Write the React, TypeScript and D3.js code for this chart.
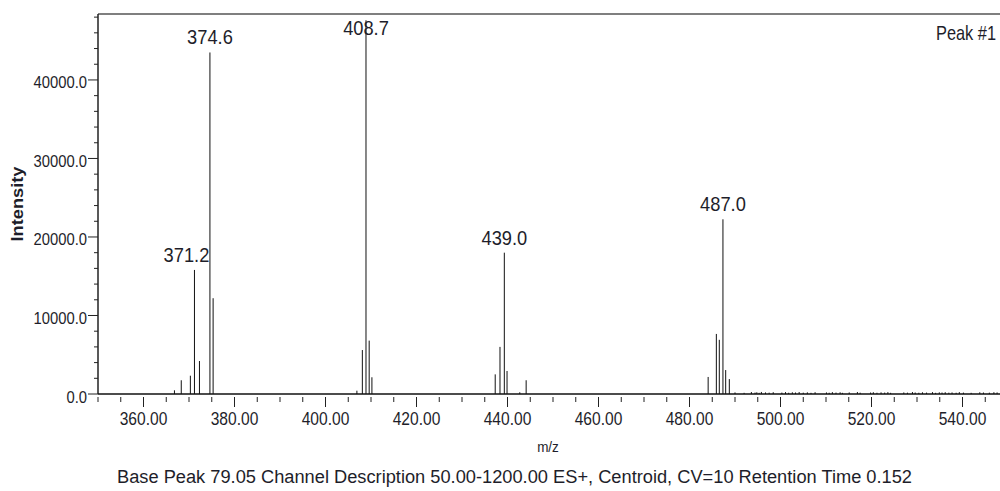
import React from "react";
import * as d3 from "d3";

// ---- data ----
const peakMz: number[] = [
  366.8, 368.3, 370.3, 371.2, 372.3, 374.6, 375.3,
  406.9, 408.1, 408.9, 409.6, 410.2,
  437.3, 438.35, 439.3, 439.9, 442.7, 444.1,
  484.1, 485.9, 486.55, 487.35, 487.95, 488.75,
];
const peakIntensity: number[] = [
  470, 1750, 2330, 15800, 4200, 43500, 12200,
  420, 5600, 47600, 6800, 2130,
  2500, 6000, 18000, 2930, 220, 1750,
  2170, 7650, 6900, 22250, 3050, 1900,
];
const noiseMz: number[] = [
  490.0, 492.0, 493.6, 494.4, 494.8, 495.3, 495.8, 496.7, 497.5, 498.4,
  500.3, 501.1, 501.8, 502.6, 503.3, 504.1, 505.0, 505.9, 506.7, 507.6,
  510.1, 510.7, 511.4, 512.2, 513.1, 513.6, 515.1, 516.9, 517.5, 519.8,
  520.4, 521.2, 522.1, 522.9, 523.6, 524.2, 527.1, 527.9, 529.0, 529.6,
  530.4, 531.2, 532.1, 533.4, 534.1, 534.9, 535.5, 536.2, 537.0, 537.7,
  538.6, 539.3, 540.2, 541.9, 543.8, 544.6, 545.9, 546.9, 547.6,
];
const noiseIntensity: number[] = [
  200, 150, 250, 180, 220, 150, 260, 200, 170, 230,
  180, 240, 160, 220, 190, 250, 170, 210, 150, 230,
  200, 160, 240, 180, 220, 150, 200, 250, 170, 190,
  230, 160, 210, 180, 240, 150, 200, 170, 250, 190,
  160, 220, 180, 240, 150, 210, 190, 230, 170, 200,
  160, 240, 180, 150, 220, 190, 170, 230, 200,
];
const labelMz: number[] = [371.2, 374.6, 408.9, 439.3, 487.35];
const labelText: string[] = ["371.2", "374.6", "408.7", "439.0", "487.0"];

const xDomain: [number, number] = [350, 550];
const yDomain: [number, number] = [0, 48400];
const xMajorTicks: number[] = [360, 380, 400, 420, 440, 460, 480, 500, 520, 540];
const yMajorTicks: number[] = [0, 10000, 20000, 30000, 40000];

const xTitle = "m/z";
const yTitle = "Intensity";
const cornerText = "Peak #1";
const footerText =
  "Base Peak 79.05 Channel Description 50.00-1200.00 ES+, Centroid, CV=10 Retention Time 0.152";

const FONT = "'Liberation Sans', Arial, sans-serif";
const TXT = "#1e1e2a";

function SText(props: {
  x: number;
  y: number;
  size: number;
  anchor?: "start" | "middle" | "end";
  sx?: number;
  weight?: string;
  rotate?: number;
  fill?: string;
  len?: number;
  children: React.ReactNode;
}) {
  const { x, y, size, anchor = "start", sx = 0.9, weight = "normal", rotate = 0, fill = TXT, len } = props;
  return (
    <text
      transform={`translate(${x},${y}) rotate(${rotate}) scale(${sx},1)`}
      fontSize={size}
      fontFamily={FONT}
      fontWeight={weight}
      textAnchor={anchor}
      fill={fill}
      textLength={len}
      lengthAdjust={len ? "spacingAndGlyphs" : undefined}
    >
      {props.children}
    </text>
  );
}

export default function App() {
  const W = 1000;
  const H = 491;
  const left = 98;
  const top = 14;
  const bottom = 394;
  const pxPerUnit = 4.55;
  const x = d3
    .scaleLinear()
    .domain(xDomain)
    .range([left, left + (xDomain[1] - xDomain[0]) * pxPerUnit]);
  const y = d3.scaleLinear().domain(yDomain).range([bottom, top]);

  const xMinor = d3.range(xDomain[0], xDomain[1] + 0.001, 5);
  const yMinor = d3.range(0, yDomain[1], 2000);

  const allMz = peakMz.concat(noiseMz);
  const allI = peakIntensity.concat(noiseIntensity);

  return (
    <svg
      width={W}
      height={H}
      style={{ position: "absolute", left: 0, top: 0, display: "block", background: "#fff" }}
    >
      <defs>
        <clipPath id="plotclip">
          <rect x={left} y={top} width={W - left} height={bottom - top + 1} />
        </clipPath>
      </defs>

      {/* spectrum sticks */}
      <g clipPath="url(#plotclip)">
        {allMz.map((m, i) => (
          <line
            key={i}
            x1={x(m)}
            x2={x(m)}
            y1={y(0)}
            y2={y(allI[i])}
            stroke="#111"
            strokeWidth={1}
          />
        ))}
      </g>

      {/* top frame */}
      <line x1={left} x2={W} y1={top} y2={top} stroke="#555" strokeWidth={1.5} />
      {/* axes */}
      <line x1={left} x2={left} y1={top} y2={bottom} stroke="#222" strokeWidth={1.5} />
      <line x1={left} x2={W} y1={bottom} y2={bottom} stroke="#111" strokeWidth={1.5} />

      {/* y ticks */}
      {yMinor.map((v) => {
        const major = v % 10000 === 0;
        return (
          <line
            key={"ym" + v}
            x1={left - (major ? 10 : 4)}
            x2={left}
            y1={y(v)}
            y2={y(v)}
            stroke="#222"
            strokeWidth={1}
          />
        );
      })}
      {yMajorTicks.map((v) => (
        <SText key={"yl" + v} x={left - 11} y={y(v) + 8.5} size={17} anchor="end" sx={0.87}>
          {v.toFixed(1)}
        </SText>
      ))}

      {/* x ticks */}
      {xMinor.map((v) => {
        const major = v % 20 === 0;
        return (
          <line
            key={"xm" + v}
            x1={x(v)}
            x2={x(v)}
            y1={bottom + 3}
            y2={bottom + (major ? 13 : 8)}
            stroke="#222"
            strokeWidth={1}
          />
        );
      })}
      {xMajorTicks.map((v) => (
        <SText key={"xl" + v} x={x(v)} y={424.5} size={17.5} anchor="middle" sx={0.89}>
          {v.toFixed(2)}
        </SText>
      ))}

      {/* peak labels */}
      {labelMz.map((m, i) => {
        const idx = peakMz.indexOf(m);
        const yt = y(peakIntensity[idx]);
        const by = Math.max(yt - 8, top + 21);
        const dx = labelText[i] === "371.2" ? -8 : 0;
        return (
          <SText key={"pl" + i} x={x(m) + dx} y={by} size={21} anchor="middle" sx={0.87}>
            {labelText[i]}
          </SText>
        );
      })}

      <SText x={936} y={39.5} size={21} anchor="start" sx={1} len={60}>
        {cornerText}
      </SText>

      {/* axis titles */}
      <SText x={548} y={452} size={15} anchor="middle" sx={0.9}>
        {xTitle}
      </SText>
      <SText x={22.5} y={204} size={16} anchor="middle" weight="bold" rotate={-90} sx={1} len={75}>
        {yTitle}
      </SText>

      <text
        x={117}
        y={483}
        fontSize={18}
        fontFamily={FONT}
        fill={TXT}
        textLength={795}
        lengthAdjust="spacingAndGlyphs"
      >
        {footerText}
      </text>
    </svg>
  );
}
